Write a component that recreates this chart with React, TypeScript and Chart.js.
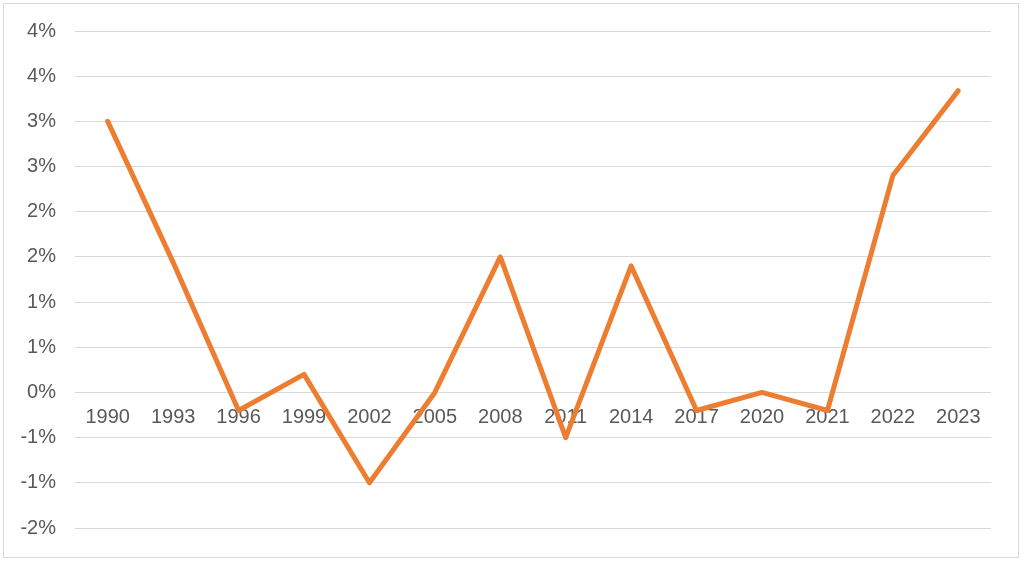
import React, { useEffect, useRef } from "react";
import { Chart, registerables } from "chart.js";

Chart.register(...registerables);

const years = ["1990", "1993", "1996", "1999", "2002", "2005", "2008", "2011", "2014", "2017", "2020", "2021", "2022", "2023"];
const values = [3.0, 1.44, -0.2, 0.2, -1.0, 0.0, 1.5, -0.5, 1.4, -0.2, 0.0, -0.2, 2.4, 3.34];
const yMin = -1.5;
const yMax = 4.0;
const yStep = 0.5;

const FONT = "'Liberation Sans', Arial, sans-serif";

export default function App() {
  const ref = useRef<HTMLCanvasElement | null>(null);
  useEffect(() => {
    if (!ref.current) return;
    const chart = new Chart(ref.current, {
      type: "line",
      data: {
        labels: years,
        datasets: [
          {
            data: values,
            borderColor: "#ED7D31",
            backgroundColor: "#ED7D31",
            borderWidth: 5,
            pointRadius: 0,
            borderJoinStyle: "round",
            borderCapStyle: "round",
            tension: 0,
          },
        ],
      },
      options: {
        animation: false,
        responsive: false,
        layout: { padding: { left: 0, right: 33, top: 31, bottom: 35 } },
        plugins: { legend: { display: false }, tooltip: { enabled: false } },
        scales: {
          x: {
            position: { y: 0 },
            offset: true,
            grid: { display: false, drawTicks: false },
            border: { display: false },
            ticks: {
              color: "#595959",
              font: { family: FONT, size: 20 },
              padding: 13,
              maxRotation: 0,
              autoSkip: false,
            },
          },
          y: {
            min: yMin,
            max: yMax,
            grid: { color: "#d9d9d9", lineWidth: 1, drawTicks: false },
            border: { display: false },
            afterFit: (scale: any) => {
              scale.width = 75;
            },
            ticks: {
              stepSize: yStep,
              color: "#595959",
              font: { family: FONT, size: 20 },
              padding: 19,
              callback: (v: any) => {
                const n = Number(v);
                const r = Math.sign(n) * Math.round(Math.abs(n));
                return (r === 0 ? 0 : r) + "%";
              },
            },
          },
        },
      },
    });
    return () => chart.destroy();
  }, []);
  return (
    <div style={{ position: "fixed", left: 0, top: 0, width: 1024, height: 563, background: "#fff" }}>
      <div
        style={{
          position: "absolute",
          left: 3,
          top: 3,
          width: 1014,
          height: 553,
          border: "1px solid #d9d9d9",
        }}
      />
      <canvas ref={ref} width={1024} height={563} style={{ position: "absolute", left: 0, top: 0 }} />
    </div>
  );
}
